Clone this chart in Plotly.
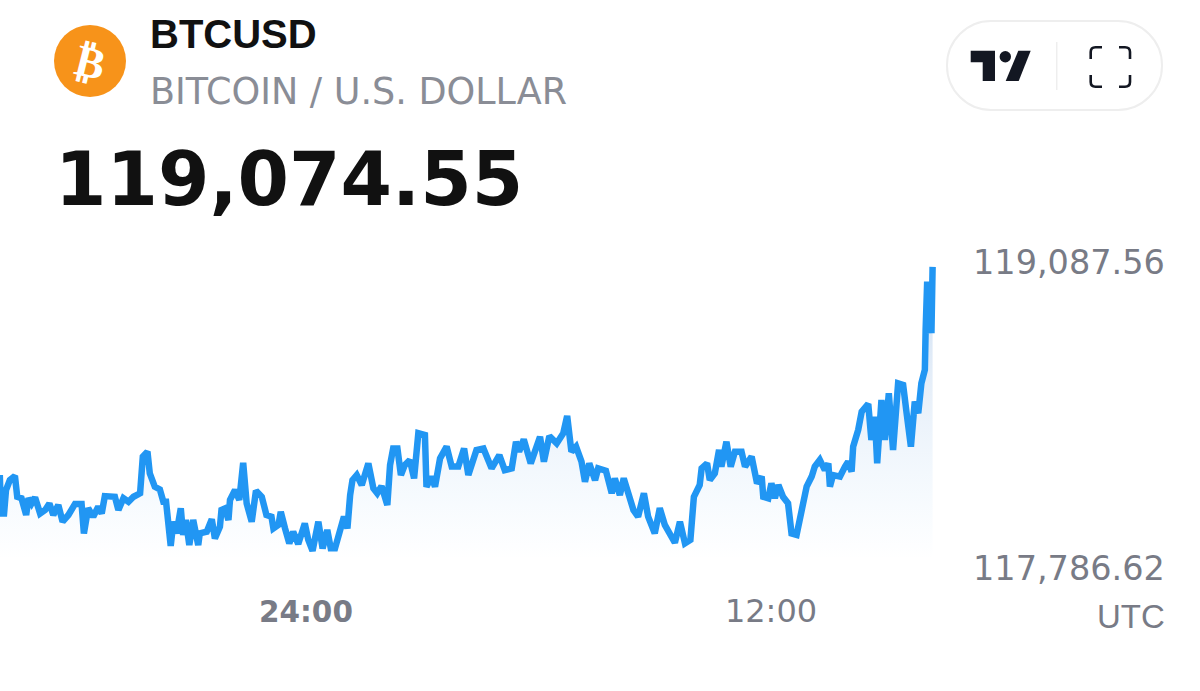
import plotly.graph_objects as go

W, H = 1200, 691

# Hours relative to the 24:00 session mark
hours = [
-7.90,-7.87,-7.79,-7.74,-7.64,-7.51,-7.45,-7.34,-7.22,-7.16,-7.08,-6.99,-6.86,-6.73,-6.62,-6.52,-6.39,-6.28,-6.13,-5.96,
-5.79,-5.73,-5.62,-5.49,-5.36,-5.27,-5.19,-4.93,-4.84,-4.71,-4.58,-4.45,-4.28,-4.21,-4.09,-4.03,-3.90,-3.77,-3.68,-3.61,
-3.49,-3.42,-3.34,-3.23,-3.17,-3.10,-3.01,-2.91,-2.78,-2.74,-2.56,-2.43,-2.35,-2.22,-2.18,-2.09,-2.00,-1.96,-1.83,-1.72,
-1.62,-1.53,-1.40,-1.29,-1.14,-1.02,-0.89,-0.84,-0.71,-0.65,-0.54,-0.43,-0.33,-0.20,-0.03,0.06,0.17,0.32,0.43,0.55,
0.64,0.75,0.98,1.07,1.14,1.20,1.31,1.44,1.61,1.74,1.84,1.95,2.10,2.17,2.25,2.36,2.45,2.55,2.68,2.79,
2.90,3.07,3.11,3.24,3.33,3.46,3.63,3.76,3.93,4.08,4.19,4.32,4.40,4.58,4.79,4.99,5.13,5.31,5.42,5.50,
5.62,5.80,6.04,6.14,6.28,6.47,6.64,6.74,6.85,6.97,7.11,7.20,7.31,7.46,7.54,7.74,7.89,7.97,8.10,8.20,
8.36,8.45,8.57,8.72,8.83,9.00,9.13,9.26,9.52,9.65,9.78,9.92,10.01,10.16,10.21,10.35,10.42,10.55,10.66,10.72,
10.85,10.96,11.07,11.24,11.33,11.50,11.64,11.76,11.80,11.93,12.01,12.10,12.19,12.31,12.44,12.53,12.66,12.79,12.92,13.05,
13.13,13.26,13.39,13.48,13.52,13.60,13.78,13.91,13.99,14.08,14.12,14.25,14.34,14.51,14.59,14.68,14.74,14.85,14.94,15.04,
15.15,15.28,15.41,15.50,15.61,15.71,15.80,15.88,15.97,15.99,16.03,16.08,16.11,16.14,16.17]

prices = [
118128,117951,117951,118059,118105,118124,118028,118021,117944,118021,117997,118025,117951,117967,117997,117944,117990,117913,117944,117995,
117995,117859,117975,117936,117982,117951,118031,118028,117967,118021,118005,118028,118044,118213,118236,118136,118074,118062,118005,118005,
117801,117913,117859,117975,117852,117921,117805,117921,117805,117859,117867,117924,117836,117890,117967,117974,117921,118013,118059,118013,
118185,117997,117913,118056,118028,117944,117936,117882,117898,117959,117882,117813,117867,117810,117905,117829,117779,117913,117790,117875,
117790,117790,117936,117882,118036,118105,118128,118082,118182,118067,118044,118077,117990,118174,118251,118251,118128,118174,118197,118113,
118321,118313,118074,118121,118074,118205,118259,118167,118167,118251,118128,118190,118244,118251,118159,118220,118151,118159,118282,118236,
118293,118182,118305,118190,118308,118274,118321,118401,118236,118259,118190,118097,118182,118105,118159,118148,118044,118113,118036,118113,
118013,117967,117936,118044,117936,117859,117975,117898,117816,117913,117813,117829,118028,118082,118159,118182,118105,118136,118244,118167,
118282,118167,118236,118236,118167,118213,118090,118121,118028,118021,118090,118021,118082,118028,117998,117859,117852,117967,118075,118121,
118167,118198,118151,118182,118075,118128,118121,118167,118190,118144,118259,118336,118420,118456,118290,118397,118182,118474,118290,118505,
118244,118551,118544,118413,118259,118467,118413,118551,118613,118797,119020,118782,119020,118782,119088]

x_tick_vals = [0, 12]
x_tick_text = ['<span style="font-size:29.5px"><b>24:00</b></span>', "12:00"]
price_high = "119,087.56"
price_low = "117,786.62"
price_high_val = 119087.56
price_low_val = 117786.62
symbol = "BTCUSD"
name = "BITCOIN / U.S. DOLLAR"
last_price = "119,074.55"
timezone = "UTC"

BLUE = "#2196f3"
GREY = "#787b86"
BASE = 117735


def px(x, y):
    return x / W, 1 - y / H


def path(cmds):
    out = []
    for c in cmds:
        op, pts = c[0], c[1:]
        conv = " ".join("%.5f,%.5f" % px(*p) for p in pts)
        out.append(op + " " + conv)
    return " ".join(out)


def rounded(x0, y0, x1, y1, r):
    k = r * 0.45
    return path([
        ("M", (x0 + r, y0)), ("L", (x1 - r, y0)),
        ("C", (x1 - k, y0), (x1, y0 + k), (x1, y0 + r)),
        ("L", (x1, y1 - r)),
        ("C", (x1, y1 - k), (x1 - k, y1), (x1 - r, y1)),
        ("L", (x0 + r, y1)),
        ("C", (x0 + k, y1), (x0, y1 - k), (x0, y1 - r)),
        ("L", (x0, y0 + r)),
        ("C", (x0, y0 + k), (x0 + k, y0), (x0 + r, y0)),
    ]) + " Z"


fig = go.Figure()
fig.add_trace(go.Scatter(x=hours, y=[BASE] * len(hours), mode="lines",
                         line=dict(width=0), hoverinfo="skip", showlegend=False))
fig.add_trace(go.Scatter(
    x=hours, y=prices, mode="lines", fill="tonexty",
    fillgradient=dict(type="vertical", start=BASE, stop=119088,
                      colorscale=[[0, "rgba(33,150,243,0)"], [0.55, "rgba(33,110,200,0.10)"], [1, "rgba(33,110,200,0.22)"]]),
    line=dict(color=BLUE, width=6.5, shape="linear"), showlegend=False))

shapes = [
    dict(type="circle", xref="paper", yref="paper",
         x0=54 / W, x1=126 / W, y0=1 - 97 / H, y1=1 - 25 / H,
         fillcolor="#f7931a", line_width=0, layer="below"),
    dict(type="path", xref="paper", yref="paper", path=rounded(947, 21, 1162, 110, 44),
         fillcolor="white", line=dict(color="#eeeeee", width=2)),
    dict(type="path", xref="paper", yref="paper", fillcolor="#131722", line_width=0,
         path=path([("M", (970.7, 50.7)), ("L", (995, 50.7)), ("L", (995, 81)), ("L", (982.7, 81)),
                    ("L", (982.7, 62.3)), ("L", (970.7, 62.3))]) + " Z"),
    dict(type="circle", xref="paper", yref="paper", fillcolor="#131722", line_width=0,
         x0=999.6 / W, x1=1011 / W, y0=1 - 62.4 / H, y1=1 - 51 / H),
    dict(type="path", xref="paper", yref="paper", fillcolor="#131722", line_width=0,
         path=path([("M", (1018.3, 50.7)), ("L", (1030.7, 50.7)), ("L", (1018.7, 81)), ("L", (1005.7, 81))]) + " Z"),
    dict(type="line", xref="paper", yref="paper", x0=1056.7 / W, x1=1056.7 / W,
         y0=1 - 42 / H, y1=1 - 90 / H, line=dict(color="#eeeeee", width=1.5)),
]
for cmds in [
    [("M", (1090.7, 59)), ("L", (1090.7, 52)), ("Q", (1090.7, 47.3), (1095.5, 47.3)), ("L", (1102, 47.3))],
    [("M", (1119, 47.3)), ("L", (1125, 47.3)), ("Q", (1130, 47.3), (1130, 52)), ("L", (1130, 59))],
    [("M", (1090.7, 75)), ("L", (1090.7, 82)), ("Q", (1090.7, 86.7), (1095.5, 86.7)), ("L", (1102, 86.7))],
    [("M", (1119, 86.7)), ("L", (1125, 86.7)), ("Q", (1130, 86.7), (1130, 82)), ("L", (1130, 75))],
]:
    shapes.append(dict(type="path", xref="paper", yref="paper", path=path(cmds),
                       line=dict(color="#131722", width=2.6)))


def text(t, x, y, size, color, family, anchor="left", bold=False, angle=0):
    return dict(text=("<b>%s</b>" % t) if bold else t, xref="paper", yref="paper",
                x=x / W, y=1 - y / H, xanchor=anchor, yanchor="middle", showarrow=False,
                font=dict(size=size, color=color, family=family), textangle=angle)


annotations = [
    text(symbol, 148, 34, 40, "#111111", "Liberation Sans", bold=True),
    text(name, 148, 91, 36.5, "#8a8d96", "DejaVu Sans"),
    text(last_price, 53, 179, 74, "#111111", "DejaVu Sans", bold=True),
    text("₿", 90, 61, 44, "white", "DejaVu Sans", anchor="center", bold=True, angle=14),
    text(timezone, 1167, 616, 33, GREY, "Liberation Sans", anchor="right"),
    dict(text=price_high, xref="paper", yref="y", x=1167 / W, y=price_high_val, yshift=5,
         xanchor="right", yanchor="middle", showarrow=False,
         font=dict(size=33.5, color=GREY, family="DejaVu Sans")),
    dict(text=price_low, xref="paper", yref="y", x=1167 / W, y=price_low_val, yshift=-19,
         xanchor="right", yanchor="middle", showarrow=False,
         font=dict(size=33.5, color=GREY, family="DejaVu Sans")),
]

bottom_px = 589
fig.update_layout(
    width=W, height=H, margin=dict(l=0, r=0, t=0, b=0),
    paper_bgcolor="white", plot_bgcolor="white", showlegend=False,
    shapes=shapes, annotations=annotations,
    xaxis=dict(range=[-7.895, 23.07], showgrid=False, zeroline=False, showline=False,
               tickmode="array", tickvals=x_tick_vals, ticktext=x_tick_text,
               ticks="", tickfont=dict(size=32, color=GREY, family="DejaVu Sans")),
    yaxis=dict(range=[117602.6, 120319], domain=[(H - bottom_px) / H, 1], showgrid=False,
               zeroline=False, showline=False, showticklabels=False, ticks=""),
)

fig.write_html("out.html", config={"displayModeBar": False},
               post_script="document.body.style.margin='0';document.body.style.overflow='hidden';")
